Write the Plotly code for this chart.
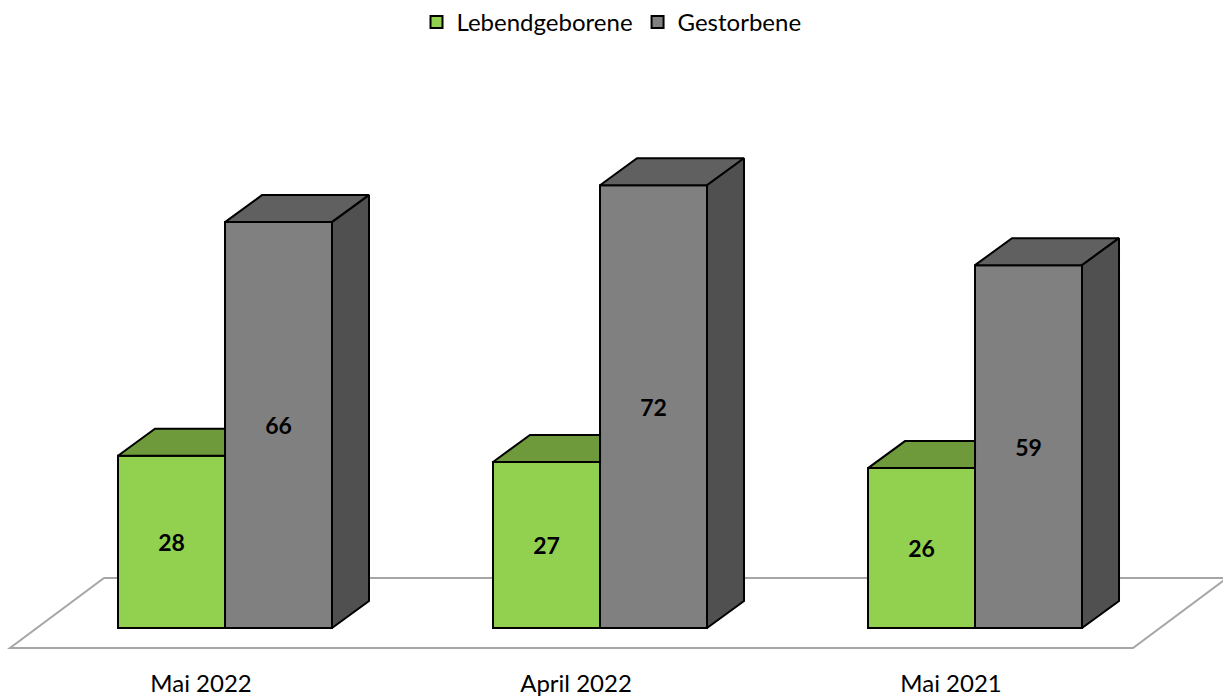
import plotly.graph_objects as go

# ---------------- data ----------------
categories = ["Mai 2022", "April 2022", "Mai 2021"]
series_names = ["Lebendgeborene", "Gestorbene"]
lebendgeborene = [28, 27, 26]
gestorbene = [66, 72, 59]

# ---------------- style ----------------
FONT = "Lato"
BAR_W = 107 / 375          # bar width in category units
DX = 37 / 375              # 3D depth offset (x, category units)
DY = 27 / 6.15             # 3D depth offset (y, value units)
FRONT = ["#92D050", "#808080"]
TOP = ["#6E9A3B", "#606060"]
SIDE = ["#55762D", "#505050"]
EDGE = dict(color="black", width=2)
LABEL_SHIFT = -0.064       # category labels sit slightly left of group centre

series = [lebendgeborene, gestorbene]
x_idx = list(range(len(categories)))
n = len(categories)

fig = go.Figure()

# front faces as real bars
for s, vals in enumerate(series):
    fig.add_trace(go.Bar(
        x=x_idx, y=vals, name=series_names[s],
        width=BAR_W, offset=-BAR_W + s * BAR_W,
        marker=dict(color=FRONT[s], line=EDGE),
        texttemplate="<b>%{y}</b>", textposition="inside",
        insidetextanchor="middle", constraintext="none",
        textfont=dict(family=FONT, size=23, color="black"),
        hoverinfo="x+y+name",
    ))

# 3D top and side faces, computed from the values
for i in x_idx:
    for s, vals in enumerate(series):
        v = vals[i]
        xl = i - BAR_W + s * BAR_W
        xr = xl + BAR_W
        nxt = series[s + 1][i] if s + 1 < len(series) else None
        hidden_right = nxt is not None and nxt >= v
        # top face (clipped by taller neighbour)
        if hidden_right:
            tx = [xl, xl + DX, xr, xr, xl]
            ty = [v, v + DY, v + DY, v, v]
        else:
            tx = [xl, xl + DX, xr + DX, xr, xl]
            ty = [v, v + DY, v + DY, v, v]
        fig.add_trace(go.Scatter(x=tx, y=ty, mode="lines", fill="toself",
                                 fillcolor=TOP[s], line=EDGE,
                                 showlegend=False, hoverinfo="skip"))
        # side face
        if not hidden_right:
            sx = [xr, xr, xr + DX, xr + DX, xr]
            sy = [0, v, v + DY, DY, 0]
            fig.add_trace(go.Scatter(x=sx, y=sy, mode="lines", fill="toself",
                                     fillcolor=SIDE[s], line=EDGE,
                                     showlegend=False, hoverinfo="skip"))

# floor (decoration, drawn below the bars)
f_front_l, f_front_r = -0.5733, (n - 1) + 0.4213
f_shift = 0.2507
f_y0, f_y1 = -3.25, 8.13
fig.add_shape(
    type="path", layer="below", xref="x", yref="y",
    path=(f"M {f_front_l},{f_y0} L {f_front_r},{f_y0} "
          f"L {f_front_r + f_shift},{f_y1} L {f_front_l + f_shift},{f_y1} Z"),
    line=dict(color="#A6A6A6", width=2), fillcolor="white",
)

fig.update_layout(
    width=1223, height=697,
    margin=dict(l=0, r=0, t=0, b=30),
    paper_bgcolor="white", plot_bgcolor="white",
    barmode="overlay",
    font=dict(family=FONT, size=20, color="black"),
    showlegend=True,
    legend=dict(orientation="h", x=0.5, xanchor="center",
                yref="paper", y=1.0, yanchor="top",
                font=dict(family=FONT, size=24, color="black"),
                itemwidth=30, traceorder="normal"),
    xaxis=dict(range=[-0.6, 2.6613], showgrid=False, zeroline=False,
               showline=False, ticks="",
               tickvals=[i + LABEL_SHIFT for i in x_idx], ticktext=categories,
               tickfont=dict(family=FONT, size=24, color="black"),
               automargin=False, fixedrange=True),
    yaxis=dict(range=[-6.341, 102.114], showgrid=False, zeroline=False,
               showline=False, showticklabels=False, ticks="",
               automargin=False, fixedrange=True),
)

fig.write_html("out.html", config={"displayModeBar": False},
               post_script="document.body.style.margin='0';")
